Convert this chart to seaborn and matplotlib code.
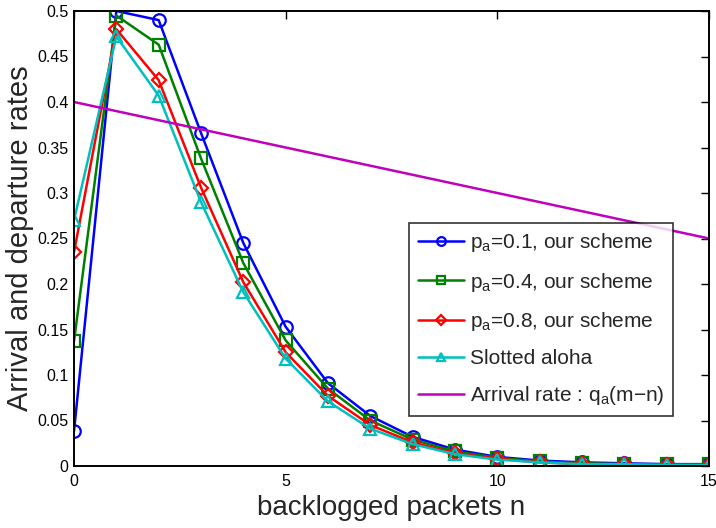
import matplotlib
matplotlib.use("Agg")
import matplotlib.pyplot as plt
import seaborn as sns
import pandas as pd

n_values = list(range(16))
pa01 = [0.038, 0.500, 0.490, 0.366, 0.245, 0.153, 0.091, 0.055, 0.032, 0.018, 0.010, 0.006, 0.004, 0.003, 0.002, 0.002]
pa04 = [0.137, 0.495, 0.463, 0.338, 0.223, 0.138, 0.085, 0.050, 0.029, 0.016, 0.009, 0.005, 0.003, 0.002, 0.002, 0.002]
pa08 = [0.235, 0.480, 0.424, 0.306, 0.202, 0.125, 0.077, 0.045, 0.026, 0.014, 0.008, 0.004, 0.002, 0.002, 0.001, 0.001]
aloha = [0.270, 0.472, 0.407, 0.290, 0.191, 0.118, 0.071, 0.041, 0.024, 0.013, 0.007, 0.004, 0.002, 0.002, 0.001, 0.001]
arrival = [0.40, 0.39, 0.38, 0.37, 0.36, 0.35, 0.34, 0.33, 0.32, 0.31, 0.30, 0.29, 0.28, 0.27, 0.26, 0.25]

labels = ["p$_{\\mathregular{a}}$=0.1, our scheme",
          "p$_{\\mathregular{a}}$=0.4, our scheme",
          "p$_{\\mathregular{a}}$=0.8, our scheme",
          "Slotted aloha",
          "Arrival rate : q$_{\\mathregular{a}}$(m\u2212n)"]
x_ticks = [0, 5, 10, 15]
y_ticks = [0, 0.05, 0.1, 0.15, 0.2, 0.25, 0.3, 0.35, 0.4, 0.45, 0.5]
y_tick_labels = ["0", "0.05", "0.1", "0.15", "0.2", "0.25", "0.3", "0.35", "0.4", "0.45", "0.5"]

sns.set_theme(style="white")
plt.rcParams['font.family'] = ['Liberation Sans', 'DejaVu Sans']
plt.rcParams['mathtext.fontset'] = 'custom'
plt.rcParams['mathtext.rm'] = 'Liberation Sans'
plt.rcParams['mathtext.it'] = 'Liberation Sans'

fig = plt.figure(figsize=(7.16, 5.28), dpi=100)
ax = fig.add_axes([74/716, 62/528, (709-74)/716, (466-11)/528])

series = [pa01, pa04, pa08, aloha, arrival]
colors = [(0, 0, 1), (0, 0.5, 0), (1, 0, 0), (0, 0.75, 0.75), (0.75, 0, 0.75)]
markers = ["o", "s", "D", "^", None]
msizes = [9, 8.5, 7, 9, 0]

for ys, lab, c, m, ms in zip(series, labels, colors, markers, msizes):
    df = pd.DataFrame({"n": n_values, "rate": ys})
    kw = dict(color=c, linewidth=1.8, label=lab)
    if m is not None:
        kw.update(marker=m, markersize=ms, markerfacecolor='none',
                  markeredgecolor=c, markeredgewidth=1.6)
    sns.lineplot(data=df, x="n", y="rate", ax=ax, **kw)

ax.set_xlim(0, 15)
ax.set_ylim(0, 0.5)
ax.set_xticks(x_ticks)
ax.set_xticklabels([str(t) for t in x_ticks])
ax.set_yticks(y_ticks)
ax.set_yticklabels(y_tick_labels)
ax.tick_params(direction='in', length=6, width=1, labelsize=11.5,
               top=True, right=True, colors='black', pad=4)
ax.tick_params(axis='x', pad=6)
for s in ax.spines.values():
    s.set_color('black')
    s.set_linewidth(1.4)

ax.set_xlabel("backlogged packets n", fontsize=20, labelpad=4)
ax.set_ylabel("Arrival and departure rates", fontsize=21, labelpad=2)

leg = ax.legend(loc='upper right', bbox_to_anchor=(0.943, 0.534),
                fontsize=15, frameon=True, fancybox=False,
                handlelength=2.2, labelspacing=0.78, borderpad=0.4,
                handletextpad=0.3, markerscale=0.7, borderaxespad=0)
leg.get_frame().set_edgecolor('black')
leg.get_frame().set_linewidth(1.2)

fig.savefig("out.png", dpi=100)
